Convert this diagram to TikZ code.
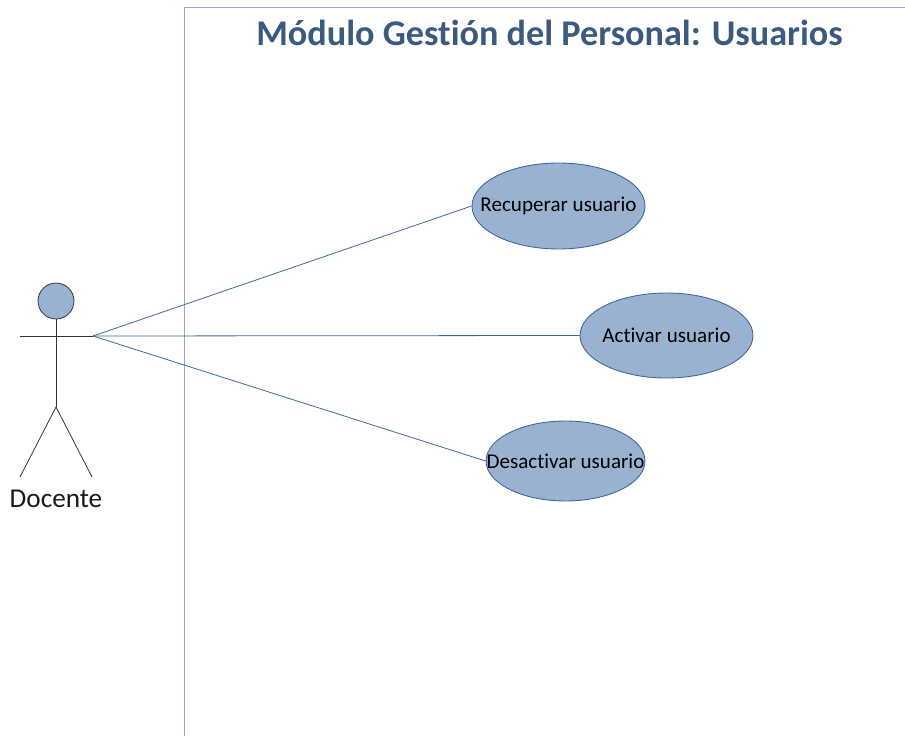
\documentclass[tikz,border=0pt]{standalone}
\usepackage{fontspec}
\setmainfont[Ligatures=NoCommon]{Carlito}
\usetikzlibrary{shapes.geometric}
\definecolor{casofill}{HTML}{9AB2D1}
\definecolor{casoline}{HTML}{3F6699}
\definecolor{marco}{HTML}{8FA8CC}
\definecolor{titulo}{HTML}{3A5A80}
\tikzset{
	usecase/.style={ellipse,draw=casoline,fill=casofill,line width=0.5pt,inner sep=0pt},
	usecasetext/.style={font=\fontsize{12}{14}\selectfont,text=black},
	actorline/.style={draw=black!80,line width=0.45pt},
	assoc/.style={draw=casoline,line width=0.45pt}
}
\begin{document}
\begin{tikzpicture}[x=0.02cm,y=-0.02cm]
	\useasboundingbox (0,0) rectangle (905,736);
	% frame
	\coordinate (F1) at (184.5,736);
	\coordinate (F2) at (184.5,7);
	\coordinate (F3) at (905,7);
	\draw[marco,line width=0.55pt] (F1) -- (F2) -- (F3);
	\node[text=titulo,font=\fontsize{20.6}{24}\selectfont\bfseries] (title) at (549.5,33) {Módulo Gestión del Personal: Usuarios};
	% actor
	\node[circle,draw=black!80,fill=casofill,line width=0.45pt,minimum size=0.72cm,inner sep=0pt] (head) at (56,301) {};
	\coordinate (hip) at (56,407);
	\coordinate (armL) at (20,336);
	\coordinate (armR) at (93,336);
	\coordinate (legL) at (20,477);
	\coordinate (legR) at (92,477);
	\draw[actorline] (head) -- (hip);
	\draw[actorline] (armL) -- (armR);
	\draw[actorline] (legL) -- (hip) -- (legR);
	\node[font=\fontsize{15.5}{18}\selectfont,text=black!90] (docente) at (56,499) {Docente};
	% use cases
	\node[usecase,minimum width=3.46cm,minimum height=1.72cm,label={[usecasetext]center:Recuperar usuario}] (recuperar) at (558.5,206) {};
	\node[usecase,minimum width=3.46cm,minimum height=1.7cm,label={[usecasetext]center:Activar usuario}] (activar) at (666.5,335.5) {};
	\node[usecase,minimum width=3.18cm,minimum height=1.6cm,label={[usecasetext]center:Desactivar usuario}] (desactivar) at (565.5,461) {};
	\draw[assoc] (armR) -- (recuperar.west);
	\draw[assoc] (armR) -- (activar.west);
	\draw[assoc] (armR) -- (desactivar.west);
\end{tikzpicture}
\end{document}
